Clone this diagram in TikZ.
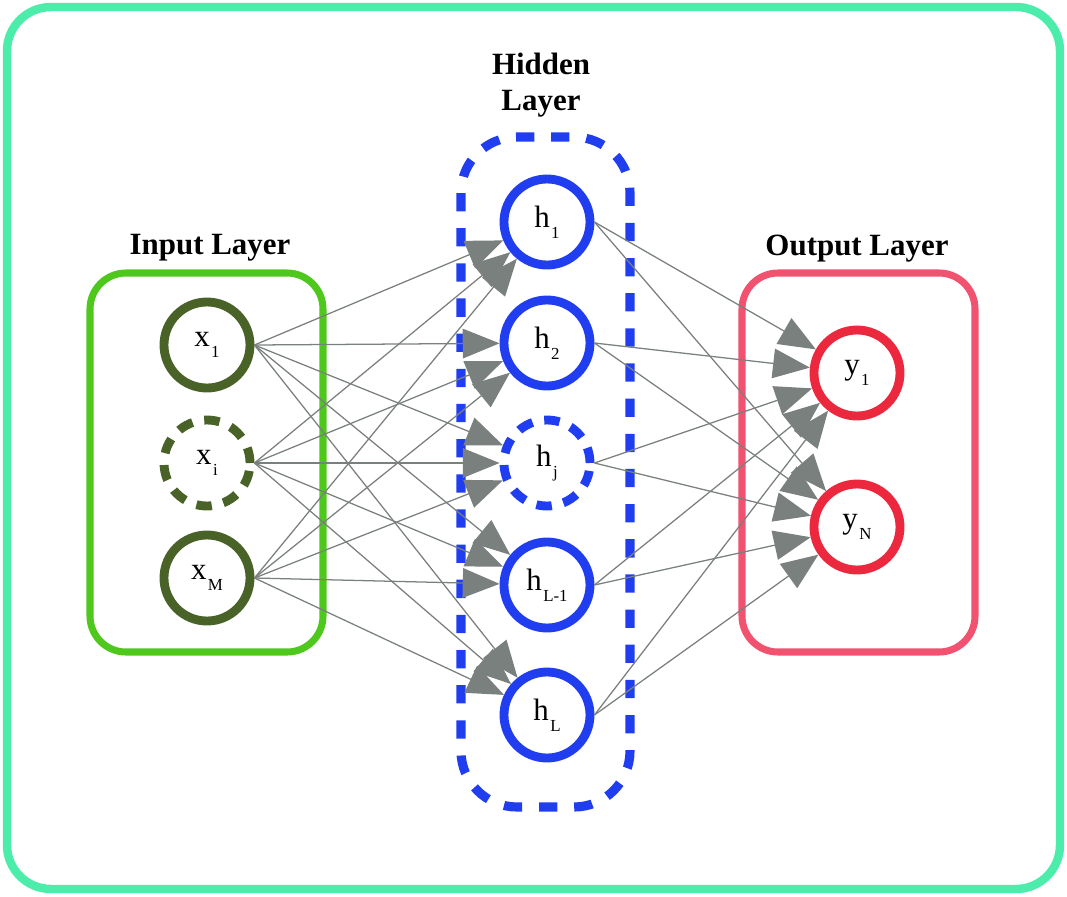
\documentclass[tikz,border=0pt]{standalone}
\usepackage{fontspec}
\setmainfont{Liberation Serif}
\usetikzlibrary{arrows.meta}
\definecolor{framemint}{RGB}{76,236,170}
\definecolor{inboxgreen}{RGB}{78,200,28}
\definecolor{inring}{RGB}{72,98,40}
\definecolor{hidblue}{RGB}{32,62,240}
\definecolor{outboxpink}{RGB}{240,82,112}
\definecolor{outring}{RGB}{236,40,62}
\definecolor{edgegray}{RGB}{122,128,126}
\newcommand{\lowidx}[1]{\kern1pt\raisebox{-8pt}{\fontsize{12}{12}\selectfont #1}}

\begin{document}
\begin{tikzpicture}[
        x=0.025cm, y=-0.025cm,
        neuron/.style={
            circle,
            minimum size=2.15cm,
            inner sep=0pt,
            line width=6.3pt,
            fill=white,
            font=\fontsize{22}{24}\selectfont
        },
        ringdash/.style={dash pattern=on 11pt off 8.5pt},
        layerbox/.style={line width=5pt, rounded corners=0.9cm},
        layertitle/.style={font=\fontsize{22}{25.5}\selectfont\bfseries, align=center},
        link/.style={
            draw=edgegray,
            line width=0.9pt,
            -{Triangle[length=0.92cm, width=0.74cm]}
        }
    ]
        \useasboundingbox (0,0) rectangle (1067,896);
        % frame and layer boxes
        \draw[framemint, line width=6pt, rounded corners=1.1cm] (7,7) rectangle (1060,889);
        \draw[layerbox, inboxgreen] (90,273) rectangle (323,652);
        \draw[layerbox, outboxpink] (742,273) rectangle (975,652);
        \draw[hidblue, line width=6.5pt, dash pattern=on 13pt off 12pt,
            rounded corners=1.4cm] (461,137) rectangle (630,807);

        \node[layertitle] (intitle) at (210,248) {Input Layer};
        \node[layertitle] (hidtitle) at (541,85) {Hidden\\Layer};
        \node[layertitle] (outtitle) at (857,249) {Output Layer};

        % neurons
        \foreach \nm/\yy/\idx/\ring in {inA/345/1/solid, inB/463/i/ringdash, inC/578/M/solid} {
            \node[neuron, draw=inring, \ring] (\nm) at (207,\yy) {x\lowidx{\idx}};
        }
        \foreach \nm/\yy/\idx/\ring in {hidA/222/1/solid, hidB/343/2/solid, hidC/463/j/ringdash,
            hidD/585/L-1/solid, hidE/715/L/solid} {
            \node[neuron, draw=hidblue, \ring] (\nm) at (547,\yy) {h\lowidx{\idx}};
        }
        \foreach \nm/\yy/\idx in {outA/373/1, outB/527/N} {
            \node[neuron, draw=outring] (\nm) at (857,\yy) {y\lowidx{\idx}};
        }

        % connections
        \foreach \a in {inA, inB, inC}
            \foreach \b in {hidA, hidB, hidC, hidD, hidE}
                \draw[link] (\a.east) -- (\b);
        \foreach \a in {hidA, hidB, hidC, hidD, hidE}
            \foreach \b in {outA, outB}
                \draw[link] (\a.east) -- (\b);
    \end{tikzpicture}
\end{document}
